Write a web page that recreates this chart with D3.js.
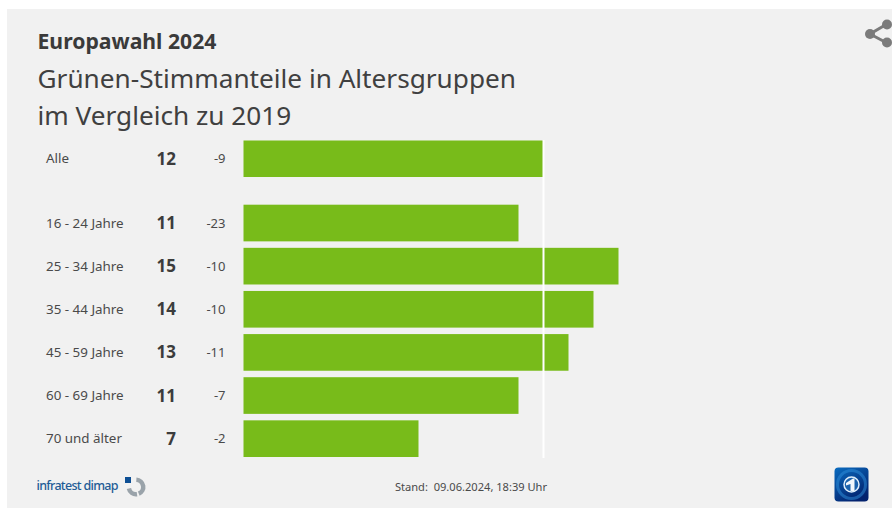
<!DOCTYPE html>
<html lang="de">
<head>
<meta charset="utf-8">
<script src="https://cdn.jsdelivr.net/npm/d3@7/dist/d3.min.js"></script>
<style>
html,body{margin:0;padding:0;background:#fff;}
svg{display:block;}
text{font-family:"Noto Sans",sans-serif;fill:#3c3c3c;}
</style>
</head>
<body>
<svg id="chart" width="892" height="508"></svg>
<script>
const overallLabel = ["Alle"];
const overallShare = [12];
const overallChange = [-9];
const ageGroups = ["16 - 24 Jahre","25 - 34 Jahre","35 - 44 Jahre","45 - 59 Jahre","60 - 69 Jahre","70 und älter"];
const ageShare = [11,15,14,13,11,7];
const ageChange = [-23,-10,-10,-11,-7,-2];
const referenceValue = [12];
const kicker = "Europawahl 2024";
const titleLines = ["Grünen-Stimmanteile in Altersgruppen","im Vergleich zu 2019"];
const sourceName = "infratest dimap";
const standText = "Stand:  09.06.2024, 18:39 Uhr";

const svg = d3.select("#chart");
svg.append("rect").attr("x",7).attr("y",9).attr("width",885).attr("height",499).attr("fill","#f1f1f1");

svg.append("text").attr("x",37.5).attr("y",48.5).attr("font-size",21.2).attr("font-weight",700).style("fill","#3a3a3a").text(kicker);
svg.selectAll("text.title").data(titleLines).join("text").attr("class","title")
  .attr("x",37.5).attr("y",(d,i)=>88+i*37).attr("font-size",26.2).style("fill","#404040").text(d=>d);

const x = d3.scaleLinear().domain([0,15]).range([243.5,618.5]);
const yAll = d3.scaleBand().domain(overallLabel).range([140.5,177]);
const yAge = d3.scaleBand().domain(ageGroups).range([204.7,457]).paddingInner(0.15);

const rows = overallLabel.map((l,i)=>({label:l,share:overallShare[i],change:overallChange[i],y:yAll(l),h:yAll.bandwidth()}))
  .concat(ageGroups.map((l,i)=>({label:l,share:ageShare[i],change:ageChange[i],y:yAge(l),h:yAge.bandwidth()})));

const g = svg.selectAll("g.row").data(rows).join("g").attr("class","row");
g.append("rect").attr("x",x(0)).attr("y",d=>d.y).attr("width",d=>x(d.share)-x(0)).attr("height",d=>d.h)
  .attr("fill","#78bb1a");
g.append("text").attr("x",46).attr("y",d=>d.y+d.h/2+4.5).attr("font-size",13.4).style("fill","#4a4a4a").text(d=>d.label);
g.append("text").attr("x",176).attr("y",d=>d.y+d.h/2+6).attr("text-anchor","end").attr("font-size",17).attr("font-weight",700).text(d=>d.share);
g.append("text").attr("x",225.5).attr("y",d=>d.y+d.h/2+4.5).attr("text-anchor","end").attr("font-size",13).style("fill","#4a4a4a").text(d=>d.change);

svg.selectAll("line.ref").data(referenceValue).join("line").attr("class","ref")
  .attr("x1",d=>x(d)).attr("x2",d=>x(d)).attr("y1",140).attr("y2",458)
  .attr("stroke","#ffffff").attr("stroke-width",2);

svg.append("text").attr("x",36.5).attr("y",490).attr("font-size",12.5).attr("font-weight",500).style("fill","#1f5c96").attr("textLength",82).text(sourceName);
svg.append("rect").attr("x",125).attr("y",477).attr("width",6).attr("height",6).attr("fill","#0d4f94");
const arc = d3.arc().innerRadius(5).outerRadius(9.5);
[[0.05,2.75],[3.0,4.5]].forEach(a=>{
  svg.append("path").attr("transform","translate(136,487)")
    .attr("d",arc({startAngle:a[0],endAngle:a[1]})).attr("fill","#9aa3aa");
});

svg.append("text").attr("x",471).attr("y",491).attr("text-anchor","middle").attr("font-size",11.1).style("fill","#4a4a4a").attr("xml:space","preserve").text(standText);

// share icon
const share = svg.append("g").attr("fill","#7b7b7b").attr("stroke","#7b7b7b");
share.append("path").attr("d","M887 24 L870 34 L887 43").attr("fill","none").attr("stroke-width",3);
[[887,24.5,5],[870,34,5],[887,42.5,5]].forEach(c=>share.append("circle").attr("cx",c[0]).attr("cy",c[1]).attr("r",c[2]).attr("stroke","none"));

// tagesschau icon
const defs = svg.append("defs");
const lg = defs.append("linearGradient").attr("id","ts").attr("x1",0).attr("y1",0).attr("x2",0.6).attr("y2",1);
lg.append("stop").attr("offset","0").attr("stop-color","#0a6cc0");
lg.append("stop").attr("offset","1").attr("stop-color","#03226e");
svg.append("rect").attr("x",834.5).attr("y",467.5).attr("width",34).attr("height",34).attr("rx",4).attr("fill","url(#ts)");
svg.append("circle").attr("cx",851.5).attr("cy",484.5).attr("r",14).attr("fill","none").attr("stroke","#2f8fdc").attr("stroke-width",3).attr("opacity",0.5);
svg.append("circle").attr("cx",851.5).attr("cy",484.5).attr("r",7.5).attr("fill","#1b62ad").attr("stroke","#dfeefb").attr("stroke-width",1.5);
svg.append("path").attr("d","M846 483 L853 478.5 L854.5 478.5 L854.5 491 L850.5 491 L850.5 484 L846 485.5 Z").attr("fill","#f2f7fc");
</script>
</body>
</html>
